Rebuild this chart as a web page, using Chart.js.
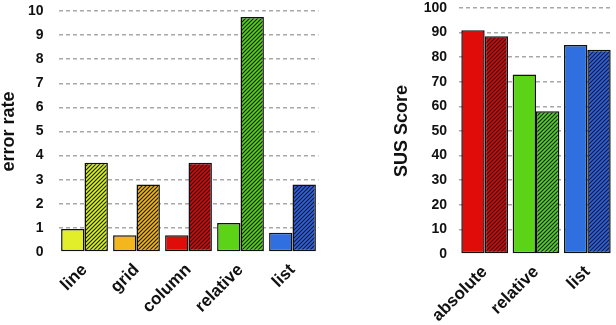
<!DOCTYPE html>
<html>
<head>
<meta charset="utf-8">
<script src="https://cdn.jsdelivr.net/npm/chart.js@4/dist/chart.umd.min.js"></script>
<style>
  body { margin: 0; background: #fff; width: 616px; height: 325px; position: relative; overflow: hidden; }
  canvas { position: absolute; top: 0; }
  #errChart { left: 0; }
  #susChart { left: 385px; }
</style>
</head>
<body>
<canvas id="errChart" width="320" height="325"></canvas>
<canvas id="susChart" width="231" height="325"></canvas>
<script>
const errCats = ['line', 'grid', 'column', 'relative', 'list'];
const errSolid = [0.95, 0.7, 0.7, 1.2, 0.8];
const errHatched = [3.7, 2.8, 3.7, 9.75, 2.8];
const errTicks = [0, 1, 2, 3, 4, 5, 6, 7, 8, 9, 10];

const susCats = ['absolute', 'relative', 'list'];
const susSolid = [91, 73, 85];
const susHatched = [88.5, 58, 83];
const susTicks = [0, 10, 20, 30, 40, 50, 60, 70, 80, 90, 100];

const FONT = "'Liberation Sans', Arial, sans-serif";

// diagonal stripes on a base colour
function hatch(base) {
  const c = document.createElement('canvas');
  c.width = 4; c.height = 4;
  const g = c.getContext('2d');
  g.fillStyle = base;
  g.fillRect(0, 0, 4, 4);
  g.strokeStyle = '#1a1a1a';
  g.lineWidth = 1.1;
  g.beginPath();
  g.moveTo(-1, 5); g.lineTo(5, -1);
  g.moveTo(-1, 1); g.lineTo(1, -1);
  g.moveTo(3, 5); g.lineTo(5, 3);
  g.stroke();
  return g.createPattern(c, 'repeat');
}

const yellow = '#e2ee2a', orange = '#f3b61c', red = '#e00c0a', green = '#5bd418', blue = '#2f6fe0';
const yellowH = '#d6f222', orangeH = '#f0b21e', redH = '#d80808', greenH = '#52d21a', blueH = '#2a60ea';

function yScale(ticks, padding, width, title, titlePad) {
  return {
    min: ticks[0],
    max: ticks[ticks.length - 1],
    afterBuildTicks: s => { s.ticks = ticks.map(v => ({ value: v })); },
    afterFit: s => { s.width = width; s.paddingTop = 0; s.paddingBottom = 0; },
    border: { display: false, dash: [4, 3] },
    grid: {
      drawTicks: false,
      lineWidth: 1.5,
      color: c => (c.tick && c.tick.value === 0) ? 'rgba(0,0,0,0)' : '#a8a8a8'
    },
    ticks: { padding: padding, color: '#111', font: { family: FONT, size: 14, weight: 'bold' } },
    title: {
      display: true, text: title, color: '#111',
      padding: { top: titlePad, bottom: 0 },
      font: { family: FONT, size: 18, weight: 'bold', lineHeight: 1 }
    }
  };
}

function xScale(height) {
  return {
    afterFit: s => { s.height = height; },
    border: { display: false },
    grid: { display: false, drawTicks: false },
    ticks: {
      padding: 8, minRotation: 45, maxRotation: 45, color: '#111',
      font: { family: FONT, size: 17, weight: 'bold' }
    }
  };
}

const common = {
  responsive: false,
  animation: false,
  devicePixelRatio: 1,
  plugins: { legend: { display: false }, tooltip: { enabled: false } }
};

new Chart(document.getElementById('errChart').getContext('2d'), {
  type: 'bar',
  data: {
    labels: errCats,
    datasets: [{
      data: errSolid,
      backgroundColor: [yellow, orange, red, green, blue],
      borderColor: '#111', borderWidth: 1.5, borderSkipped: false,
      categoryPercentage: 0.9, barPercentage: 1
    }, {
      data: errHatched,
      backgroundColor: [hatch(yellowH), hatch(orangeH), hatch(redH), hatch(greenH), hatch(blueH)],
      borderColor: '#111', borderWidth: 1.5, borderSkipped: false,
      categoryPercentage: 0.9, barPercentage: 1
    }]
  },
  options: Object.assign({}, common, {
    layout: { padding: { top: 11, right: 1.5, bottom: 0, left: 0 } },
    scales: { x: xScale(73), y: yScale(errTicks, 15, 58.5, 'error rate', 0) }
  })
});

new Chart(document.getElementById('susChart').getContext('2d'), {
  type: 'bar',
  data: {
    labels: susCats,
    datasets: [{
      data: susSolid,
      backgroundColor: [red, green, blue],
      borderColor: '#111', borderWidth: 1.5, borderSkipped: false,
      categoryPercentage: 0.91, barPercentage: 1
    }, {
      data: susHatched,
      backgroundColor: [hatch(redH), hatch(greenH), hatch(blueH)],
      borderColor: '#111', borderWidth: 1.5, borderSkipped: false,
      categoryPercentage: 0.91, barPercentage: 1
    }]
  },
  options: Object.assign({}, common, {
    layout: { padding: { top: 8, right: 3, bottom: 0, left: 0 } },
    scales: { x: xScale(71), y: yScale(susTicks, 12, 74, 'SUS Score', 8) }
  })
});
</script>
</body>
</html>
